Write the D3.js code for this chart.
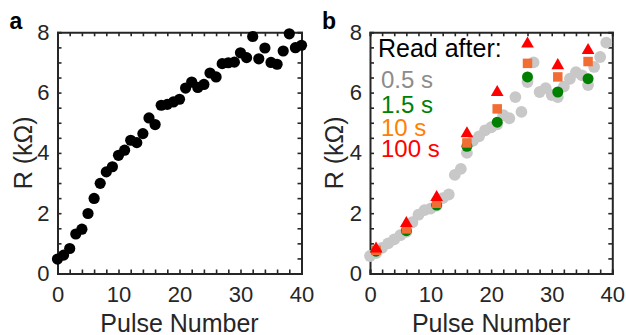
<!DOCTYPE html>
<html>
<head>
<meta charset="utf-8">
<script src="https://cdn.jsdelivr.net/npm/d3@7"></script>
<style>
  body { margin: 0; background: #fff; }
  svg { display: block; font-family: "Liberation Sans", Arial, sans-serif; }
</style>
</head>
<body>
<svg id="chart" width="626" height="335"></svg>
<script>
// Data
// ----
// panel a: resistance after each pulse
const pulseA = [0,1,2,3,4,5,6,7,8,9,10,11,12,13,14,15,16,17,18,19,20,
                21,22,23,24,25,26,27,28,29,30,31,32,33,34,35,36,37,38,39,40];
const rA = [0.48,0.61,0.83,1.31,1.47,1.99,2.49,2.99,3.37,3.54,3.92,4.09,4.42,4.34,4.64,5.16,4.94,5.58,5.61,5.69,5.78,
            6.15,6.35,6.17,6.27,6.65,6.52,6.96,6.99,7.01,7.32,7.16,7.86,7.12,7.48,7.0,6.94,7.38,7.95,7.49,7.57];

// panel b: read after 0.5 s (every pulse)
const pulseB = [0,1,2,3,4,5,6,7,8,9,10,11,12,13,14,15,16,17,18,19,
                20,21,22,23,24,25,26,27,28,29,30,31,32,33,34,35,36,37,38,39];
const r05 = [0.58,0.68,0.85,1.0,1.13,1.27,1.38,1.7,1.95,2.1,2.15,2.25,2.5,2.62,3.27,3.47,4.0,4.4,4.55,4.75,
             4.85,4.95,5.25,5.15,5.85,5.36,6.35,7.0,6.02,6.15,5.92,5.85,6.2,6.46,6.68,6.57,6.25,6.85,7.18,7.66];

// panel b: longer read delays, every 5th pulse
const pulseLong = [1,6,11,16,21,26,31,36];
const r15  = [0.74,1.42,2.27,4.22,5.02,6.52,6.02,6.46];
const r10  = [0.77,1.48,2.33,4.33,5.46,6.97,6.52,7.03];
const r100 = [0.82,1.66,2.53,4.64,6.01,7.62,6.90,7.40];

const legendLabels = ["0.5 s","1.5 s","10 s","100 s"];
const legendColors = ["#8c8c8c","#008000","#ff8000","#ff0000"];

const xTicks = [0,2,4,6,8,10,12,14,16,18,20,22,24,26,28,30,32,34,36,38,40];
const yTicks = [0,0.5,1,1.5,2,2.5,3,3.5,4,4.5,5,5.5,6,6.5,7,7.5,8];

// Layout
// ------
const svg = d3.select("#chart");
const plotTop = 32.3, plotBottom = 273.5;
const axisColor = "#262626";

const y = d3.scaleLinear().domain([0, 8]).range([plotBottom, plotTop]);

function drawPanel(left, right, letter, labelX) {
    const x = d3.scaleLinear().domain([0, 40]).range([left, right]);
    const g = svg.append("g");

    const fmtX = d => (d % 10 === 0 ? d : "");
    const fmtY = d => (d % 2 === 0 ? d : "");

    // bottom / top
    g.append("g").attr("transform", `translate(0,${plotBottom})`)
        .call(d3.axisBottom(x).tickValues(xTicks).tickSize(-4).tickPadding(13).tickFormat(fmtX));
    g.append("g").attr("transform", `translate(0,${plotTop})`)
        .call(d3.axisTop(x).tickValues(xTicks).tickSize(-4).tickFormat(""));
    // left / right
    g.append("g").attr("transform", `translate(${left},0)`)
        .call(d3.axisLeft(y).tickValues(yTicks).tickSize(-4).tickPadding(8).tickFormat(fmtY));
    g.append("g").attr("transform", `translate(${right},0)`)
        .call(d3.axisRight(y).tickValues(yTicks).tickSize(-4).tickFormat(""));

    g.selectAll(".domain").attr("stroke", axisColor).attr("stroke-width", 2);
    g.selectAll(".tick line").attr("stroke", axisColor).attr("stroke-width", 1.6);
    g.selectAll(".tick text").attr("fill", axisColor).style("font-size", "22px");

    // axis titles
    svg.append("text")
        .attr("x", (left + right) / 2).attr("y", 332)
        .attr("text-anchor", "middle").attr("fill", axisColor)
        .style("font-size", "25px").text("Pulse Number");
    svg.append("text")
        .attr("transform", `translate(${labelX},${(plotTop + plotBottom) / 2}) rotate(-90)`)
        .attr("text-anchor", "middle").attr("fill", axisColor)
        .style("font-size", "25px").text("R (kΩ)");
    svg.append("text")
        .attr("x", left - 48).attr("y", 29)
        .attr("fill", "#000").style("font-size", "23px").style("font-weight", "bold")
        .text(letter);

    return x;
}

// Panel a
const xA = drawPanel(57.5, 301.5, "a", 32);
svg.append("g").selectAll("circle")
    .data(pulseA)
    .join("circle")
    .attr("cx", d => xA(d))
    .attr("cy", (d, i) => y(rA[i]))
    .attr("r", 5.6)
    .attr("fill", "#000");

// Panel b
const xB = drawPanel(370, 612.3, "b", 343);
const gb = svg.append("g");
gb.selectAll("circle.gray")
    .data(pulseB)
    .join("circle")
    .attr("class", "gray")
    .attr("cx", d => xB(d))
    .attr("cy", (d, i) => y(r05[i]))
    .attr("r", 5.9)
    .attr("fill", "#c8c8c8");

gb.selectAll("circle.green")
    .data(pulseLong)
    .join("circle")
    .attr("class", "green")
    .attr("cx", d => xB(d))
    .attr("cy", (d, i) => y(r15[i]))
    .attr("r", 5.5)
    .attr("fill", "#008000");

gb.selectAll("path.sq")
    .data(pulseLong)
    .join("path")
    .attr("class", "sq")
    .attr("d", d3.symbol(d3.symbolSquare, 90))
    .attr("transform", (d, i) => `translate(${xB(d)},${y(r10[i])})`)
    .attr("fill", "#f26d33");

gb.selectAll("path.tri")
    .data(pulseLong)
    .join("path")
    .attr("class", "tri")
    .attr("d", d3.symbol(d3.symbolTriangle, 70))
    .attr("transform", (d, i) => `translate(${xB(d)},${y(r100[i])})`)
    .attr("fill", "#ff0000");

// legend text
const leg = svg.append("g");
leg.append("text").attr("x", 378).attr("y", 57).attr("fill", "#000")
    .style("font-size", "25px").text("Read after:");
const legY = [88, 113, 136, 157];
leg.selectAll("text.item")
    .data(legendLabels)
    .join("text")
    .attr("class", "item")
    .attr("x", 381)
    .attr("y", (d, i) => legY[i])
    .attr("fill", (d, i) => legendColors[i])
    .style("font-size", "24px")
    .text(d => d);
</script>
</body>
</html>
